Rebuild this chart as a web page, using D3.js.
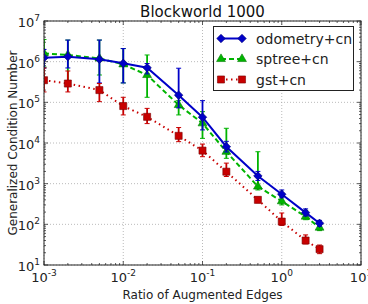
<!DOCTYPE html>
<html><head><meta charset="utf-8">
<script src="https://cdn.jsdelivr.net/npm/d3@7"></script>
<style>body{margin:0;background:#fff}svg{display:block;font-family:"DejaVu Sans",sans-serif}</style>
</head><body><div id="chart"></div>
<script>
const xValues = [0.001,0.002,0.005,0.01,0.02,0.05,0.1,0.2,0.5,1,2,3];
const odometry = [1.25e6,1.33e6,1.14e6,9.1e5,7.1e5,1.5e5,4.3e4,8.1e3,1.55e3,550,194,106];
const odometryLo = [7e5,7e5,3e5,3e5,5e5,7.3e4,2.1e4,6e3,1.2e3,450,160,90];
const odometryHi = [2e6,3.4e6,3.4e6,2.1e6,9e5,6.9e5,1.1e5,1.1e4,2e3,700,240,125];
const sptree = [1.6e6,1.46e6,1.2e6,8.6e5,4.7e5,8.6e4,3.05e4,6.1e3,850,370,155,83];
const sptreeLo = [7.4e5,3.2e5,4.7e5,3e5,1.33e5,4.9e4,1.3e4,4.2e3,700,300,130,70];
const sptreeHi = [3.5e6,3.4e6,3.4e6,2.1e6,1.46e6,1.1e5,5.9e4,2.3e4,6.1e3,480,220,100];
const gst = [3.5e5,2.9e5,2.0e5,8.1e4,4.4e4,1.5e4,6.5e3,1.97e3,400,117,40,24.5];
const gstLo = [1.8e5,1.8e5,1.04e5,4.9e4,3.0e4,1.08e4,4.6e3,1.5e3,340,94,33,19];
const gstHi = [7e5,5.9e5,2.9e5,1.33e5,7.1e4,2.4e4,9.4e3,3.2e3,470,190,55,31];
const xTicks = [-3,-2,-1,0,1];
const yTicks = [1,2,3,4,5,6,7];
const seriesNames = ["odometry+cn","sptree+cn","gst+cn"];
const colors = ["#0000c8","#00b400","#c80000"];
const edgeColors = ["#00007a","#007a00","#7a0000"];

const W = 368, H = 304;
const m = {l:44, r:7, t:21, b:39};
const svg = d3.select("#chart").append("svg").attr("width",W).attr("height",H);
const x = d3.scaleLog().domain([1e-3,1e1]).range([m.l, W-m.r]);
const y = d3.scaleLog().domain([1e1,1e7]).range([H-m.b, m.t]);

// grid
const g = svg.append("g");
xTicks.forEach(e=>{ g.append("line").attr("x1",x(10**e)).attr("x2",x(10**e)).attr("y1",m.t).attr("y2",H-m.b)
  .attr("stroke","#a8a8a8").attr("stroke-width",0.8).attr("stroke-dasharray","1,2"); });
yTicks.forEach(e=>{ g.append("line").attr("y1",y(10**e)).attr("y2",y(10**e)).attr("x1",m.l).attr("x2",W-m.r)
  .attr("stroke","#a8a8a8").attr("stroke-width",0.8).attr("stroke-dasharray","1,2"); });

// ticks (inward, all sides)
const tk = svg.append("g").attr("stroke","#333").attr("stroke-width",0.8);
const minor = (lo,hi)=>{const a=[];for(let e=lo;e<hi;e++)for(let k=2;k<10;k++)a.push(k*10**e);return a;};
xTicks.forEach(e=>{const px=x(10**e);
  tk.append("line").attr("x1",px).attr("x2",px).attr("y1",H-m.b).attr("y2",H-m.b-4);
  tk.append("line").attr("x1",px).attr("x2",px).attr("y1",m.t).attr("y2",m.t+4);});
minor(-3,1).forEach(v=>{const px=x(v);
  tk.append("line").attr("x1",px).attr("x2",px).attr("y1",H-m.b).attr("y2",H-m.b-2);
  tk.append("line").attr("x1",px).attr("x2",px).attr("y1",m.t).attr("y2",m.t+2);});
yTicks.forEach(e=>{const py=y(10**e);
  tk.append("line").attr("y1",py).attr("y2",py).attr("x1",m.l).attr("x2",m.l+4);
  tk.append("line").attr("y1",py).attr("y2",py).attr("x1",W-m.r).attr("x2",W-m.r-4);});
minor(1,7).forEach(v=>{const py=y(v);
  tk.append("line").attr("y1",py).attr("y2",py).attr("x1",m.l).attr("x2",m.l+2);
  tk.append("line").attr("y1",py).attr("y2",py).attr("x1",W-m.r).attr("x2",W-m.r-2);});

// tick labels
xTicks.forEach(e=>{const t=svg.append("text").attr("x",x(10**e)).attr("y",H-m.b+17).attr("text-anchor","middle")
  .attr("font-size",13).attr("fill","#222");
  t.append("tspan").text("10"); t.append("tspan").attr("dy",-6).attr("font-size",9).text(e);});
yTicks.forEach(e=>{const t=svg.append("text").attr("x",m.l-4).attr("y",y(10**e)+6).attr("text-anchor","end")
  .attr("font-size",13).attr("fill","#222");
  t.append("tspan").text("10"); t.append("tspan").attr("dy",-6).attr("font-size",9).text(e);});

// axis labels & title
svg.append("text").attr("x",(m.l+W-m.r)/2).attr("y",299).attr("text-anchor","middle").attr("font-size",12).attr("fill","#222").text("Ratio of Augmented Edges");
svg.append("text").attr("transform",`translate(17,${(m.t+H-m.b)/2}) rotate(-90)`).attr("text-anchor","middle").attr("font-size",12).attr("fill","#222").text("Generalized Condition Number");
svg.append("text").attr("x",(m.l+W-m.r)/2).attr("y",17).attr("text-anchor","middle").attr("font-size",15).attr("fill","#111").text("Blockworld 1000");

// markers
const diamond = d3.symbol(d3.symbolSquare,36)();
const tri = d3.symbol(d3.symbolTriangle,34)();
const sq = d3.symbol(d3.symbolSquare,50)();

const series = [
  {name:seriesNames[1], v:sptree, lo:sptreeLo, hi:sptreeHi, c:colors[1], e:edgeColors[1], dash:"5,3", d:tri, rot:0},
  {name:seriesNames[0], v:odometry, lo:odometryLo, hi:odometryHi, c:colors[0], e:edgeColors[0], dash:null, d:diamond, rot:45},
  {name:seriesNames[2], v:gst, lo:gstLo, hi:gstHi, c:colors[2], e:edgeColors[2], dash:"1.5,3.5", d:sq, rot:0}
];
svg.append("clipPath").attr("id","cp").append("rect").attr("x",m.l).attr("y",m.t).attr("width",W-m.l-m.r).attr("height",H-m.t-m.b);
const plot = svg.append("g").attr("clip-path","url(#cp)");
const line = d3.line().x((d,i)=>x(xValues[i])).y(d=>y(d));
series.forEach(s=>{
  const sg = plot.append("g");
  s.v.forEach((v,i)=>{const px=x(xValues[i]);
    sg.append("line").attr("x1",px).attr("x2",px).attr("y1",y(s.lo[i])).attr("y2",y(s.hi[i])).attr("stroke",s.c).attr("stroke-width",1.8);
    [s.lo[i],s.hi[i]].forEach(b=>sg.append("line").attr("x1",px-2.5).attr("x2",px+2.5).attr("y1",y(b)).attr("y2",y(b)).attr("stroke",s.c).attr("stroke-width",1));
  });
  sg.append("path").attr("d",line(s.v)).attr("fill","none").attr("stroke",s.c).attr("stroke-width",2).attr("stroke-dasharray",s.dash);
  s.v.forEach((v,i)=>{sg.append("path").attr("d",s.d).attr("transform",`translate(${x(xValues[i])},${y(v)}) rotate(${s.rot})`)
    .attr("fill",s.c).attr("stroke",s.e).attr("stroke-width",0.6);});
});

// frame
svg.append("rect").attr("x",m.l).attr("y",m.t).attr("width",W-m.l-m.r).attr("height",H-m.t-m.b).attr("fill","none").attr("stroke","#222").attr("stroke-width",1);

// legend
const lg = svg.append("g");
lg.append("rect").attr("x",213.5).attr("y",26.5).attr("width",140).attr("height",64).attr("fill","#fff").attr("stroke","#222").attr("stroke-width",1);
[series[1],series[0],series[2]].forEach((s,i)=>{
  const ly = 38.5 + i*20.5;
  lg.append("line").attr("x1",221).attr("x2",242).attr("y1",ly).attr("y2",ly).attr("stroke",s.c).attr("stroke-width",2).attr("stroke-dasharray",s.dash);
  [221,242].forEach(px=>lg.append("path").attr("d",s.d).attr("transform",`translate(${px},${ly}) rotate(${s.rot})`).attr("fill",s.c).attr("stroke",s.e).attr("stroke-width",0.6));
  lg.append("text").attr("x",256).attr("y",ly+5).attr("font-size",14).attr("fill","#222").text(s.name);
});
</script></body></html>
